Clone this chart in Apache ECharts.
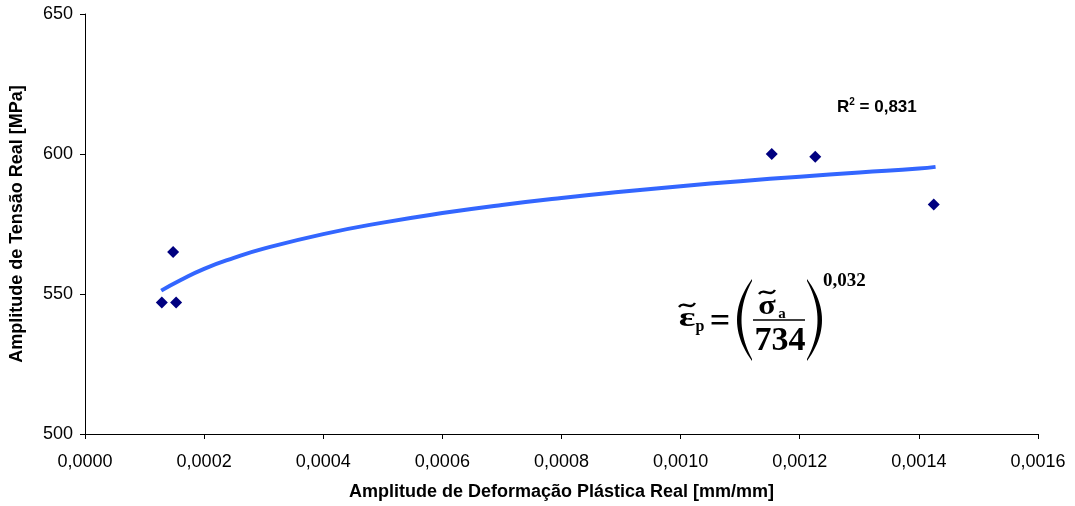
<!DOCTYPE html>
<html>
<head>
<meta charset="utf-8">
<script src="https://cdn.jsdelivr.net/npm/echarts@6/dist/echarts.min.js"></script>
<style>
  html, body { margin: 0; padding: 0; background: #fff; }
  #main { width: 1075px; height: 506px; }
</style>
</head>
<body>
<div id="main"></div>
<script>
// pontos medidos
var deformacao = [0.000129, 0.000148, 0.000153, 0.001153, 0.001226, 0.001425];
var tensao = [547, 565, 547, 600, 599, 582];

// linha de tendência (potência)
var tendX = [0.000128, 0.00016, 0.0002, 0.00025, 0.0003, 0.0004, 0.0005, 0.0006, 0.0007, 0.0008, 0.0009, 0.0010, 0.0011, 0.0012, 0.0013, 0.0014, 0.001428];
var tendY = [551.2, 554.9, 559, 562.9, 566.2, 571.4, 575.5, 578.9, 581.8, 584.3, 586.5, 588.5, 590.3, 591.9, 593.4, 594.8, 595.4];

var yTicks = [500, 550, 600, 650];

var myChart = echarts.init(document.getElementById('main'));

var pontos = deformacao.map(function (x, i) { return [x, tensao[i]]; });
var curva = tendX.map(function (x, i) { return [x, tendY[i]]; });

var serif = '"Liberation Serif", "Times New Roman", serif';
var sans = '"Liberation Sans", Arial, sans-serif';
function txt(t, x, y, size, weight, align, sx) {
    return {
        type: 'text', x: x, y: y, z: 100, scaleX: sx || 1,
        style: {
            text: t, fill: '#000', fontFamily: serif, fontSize: size,
            fontWeight: weight || 'bold', textAlign: align || 'center', textVerticalAlign: 'middle'
        }
    };
}
function til(x0, y0, w) {
    return {
        type: 'bezierCurve', z: 100,
        shape: { x1: x0, y1: y0 + 2, cpx1: x0 + w * 0.3, cpy1: y0 - 5, cpx2: x0 + w * 0.7, cpy2: y0 + 6, x2: x0 + w, y2: y0 - 2 },
        style: { stroke: '#000', lineWidth: 2.4, fill: null }
    };
}
// parêntese grande: crescente entre duas curvas quadráticas
function paren(xEnd, top, bot, bulgeOut, bulgeIn) {
    var pts = [], n = 24, mid = (top + bot) / 2;
    var cOut = 2 * bulgeOut - xEnd, cIn = 2 * bulgeIn - xEnd;
    for (var i = 0; i <= n; i++) {
        var t = i / n;
        pts.push([(1 - t) * (1 - t) * xEnd + 2 * t * (1 - t) * cOut + t * t * xEnd, (1 - t) * (1 - t) * top + 2 * t * (1 - t) * mid + t * t * bot]);
    }
    for (var j = n; j >= 0; j--) {
        var s = j / n, t2 = top + 2, b2 = bot - 2;
        pts.push([(1 - s) * (1 - s) * xEnd + 2 * s * (1 - s) * cIn + s * s * xEnd, (1 - s) * (1 - s) * t2 + 2 * s * (1 - s) * ((t2 + b2) / 2) + s * s * b2]);
    }
    return { type: 'polygon', z: 100, shape: { points: pts }, style: { fill: '#000' } };
}

var option = {
    animation: false,
    grid: { left: 85, right: 37, top: 14, bottom: 72, outerBoundsMode: 'none', containLabel: false },
    xAxis: {
        type: 'value', min: 0, max: 0.0016, interval: 0.0002,
        name: 'Amplitude de Deformação Plástica Real [mm/mm]',
        nameLocation: 'middle', nameGap: 49,
        nameTextStyle: { fontFamily: sans, fontWeight: 'bold', fontSize: 18, color: '#000' },
        axisLine: { lineStyle: { color: '#000', width: 1 } },
        axisTick: { length: 5, lineStyle: { color: '#000' } },
        axisLabel: {
            color: '#000', fontFamily: sans, fontSize: 18, margin: 19,
            formatter: function (v) { return v.toFixed(4).replace('.', ','); }
        },
        splitLine: { show: false }
    },
    yAxis: {
        type: 'value', min: yTicks[0], max: yTicks[yTicks.length - 1], interval: 50,
        name: 'Amplitude de Tensão Real [MPa]',
        nameLocation: 'middle', nameGap: 59,
        nameTextStyle: { fontFamily: sans, fontWeight: 'bold', fontSize: 18, color: '#000' },
        axisLine: { show: true, lineStyle: { color: '#000', width: 1 } },
        axisTick: { show: true, length: 5, lineStyle: { color: '#000' } },
        axisLabel: { color: '#000', fontFamily: sans, fontSize: 18, margin: 12 },
        splitLine: { show: false }
    },
    series: [
        {
            type: 'line', data: curva, smooth: true, showSymbol: false,
            lineStyle: { color: '#3366ff', width: 4 }, z: 2
        },
        {
            type: 'scatter', data: pontos, symbol: 'diamond', symbolSize: [12, 12],
            itemStyle: { color: '#000080', opacity: 1 }, z: 3
        }
    ],
    graphic: [
        {
            type: 'text', x: 837, y: 107, z: 100,
            style: {
                text: '{b|R}{s|2}{b| = 0,831}', textVerticalAlign: 'middle',
                rich: {
                    b: { fontFamily: sans, fontWeight: 'bold', fontSize: 17, fill: '#000' },
                    s: { fontFamily: sans, fontWeight: 'bold', fontSize: 10, fill: '#000', verticalAlign: 'top', padding: [0, 0, 9, 0] }
                }
            }
        },
        // equação do ajuste
        txt('ε', 687, 319, 28, 'bold', 'center', 1.4),
        til(679, 305, 16),
        txt('p', 700, 327, 16),
        txt('=', 720, 323, 36),
        paren(752, 279, 361, 737, 741.5),
        txt('σ', 767, 307, 28, 'bold', 'center', 1.15),
        til(759, 292, 16),
        txt('a', 782, 314, 15),
        { type: 'line', z: 100, shape: { x1: 753, y1: 320, x2: 805, y2: 320 }, style: { stroke: '#000', lineWidth: 1.5 } },
        txt('734', 780, 341, 34),
        paren(807, 279, 361, 822, 817.5),
        txt('0,032', 823, 281, 19, 'bold', 'left')
    ]
};

myChart.setOption(option);
</script>
</body>
</html>
